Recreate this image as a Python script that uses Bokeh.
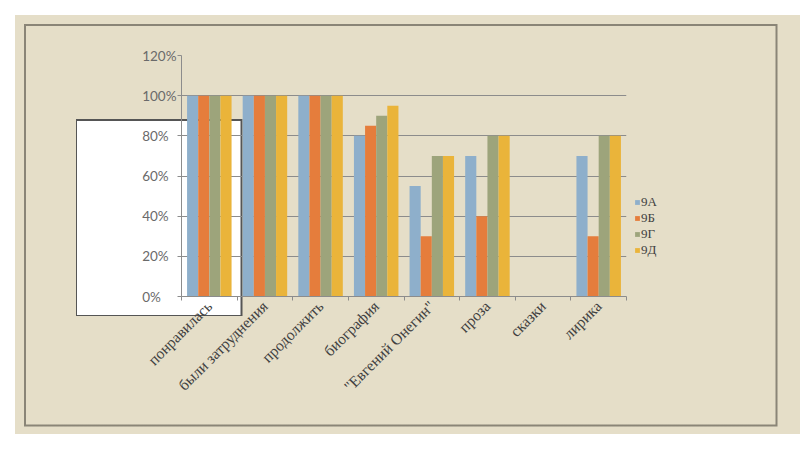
from bokeh.plotting import figure
from bokeh.models import (ColumnDataSource, FixedTicker, Legend, LegendItem)
from bokeh.transform import dodge
from bokeh.embed import file_html
from bokeh.resources import INLINE

categories = ["понравилась", "были затруднения", "продолжить", "биография",
              "\"Евгений Онегин\"", "проза", "сказки", "лирика"]
series = ["9А", "9Б", "9Г", "9Д"]
v_9A = [100, 100, 100, 80, 55, 70, 0, 70]
v_9B = [100, 100, 100, 85, 30, 40, 0, 30]
v_9G = [100, 100, 100, 90, 70, 80, 0, 80]
v_9D = [100, 100, 100, 95, 70, 80, 0, 80]
y_ticks = [0, 20, 40, 60, 80, 100, 120]

colors = ["#8EAFCB", "#E57D3C", "#9DA47B", "#EAB43A"]
offsets = [-0.3, -0.1, 0.1, 0.3]

centers = [i + 0.5 for i in range(len(categories))]
src = ColumnDataSource(dict(x=centers, a=v_9A, b=v_9B, g=v_9G, d=v_9D))

BG = "#E5DEC8"
FRAME = "#8A8577"
# page decoration painted behind a transparent canvas (positions relative to figure)
bg_layers = ", ".join([
    "linear-gradient(white, white) 62px 105.5px / 163.5px 194px no-repeat",
    "linear-gradient(#555555, #555555) 60.5px 104px / 166.5px 197px no-repeat",
    f"linear-gradient({BG}, {BG}) 10.5px 10.5px / 749.5px 398.5px no-repeat",
    f"linear-gradient({FRAME}, {FRAME}) 8.5px 8.5px / 753.5px 402.5px no-repeat",
])

p = figure(frame_width=445, frame_height=241, output_backend="svg", toolbar_location=None,
           x_range=(0, len(categories)), y_range=(0, 120),
           min_border_left=166, min_border_right=159, min_border_top=40,
           min_border_bottom=138, margin=(15, 0, 0, 15),
           styles={"background": bg_layers, "background-color": BG})
p.border_fill_alpha = 0
p.background_fill_alpha = 0
p.outline_line_color = None

fields = ["a", "b", "g", "d"]
renderers = []
for f, c, off in zip(fields, colors, offsets):
    r = p.vbar(x=dodge("x", off), top=f, width=0.2, bottom=0, source=src,
               fill_color=c, line_color=None)
    renderers.append(r)

# axes (labels are left-aligned in the original: pad short ones with figure spaces)
FS = "\u2007"
p.yaxis.ticker = FixedTicker(ticks=y_ticks)
p.yaxis.major_label_overrides = {t: f"{t}%" + FS * (3 - len(str(t))) for t in y_ticks}
p.yaxis.major_label_text_font = "Lato"
p.yaxis.major_label_text_font_size = "13.5px"
p.yaxis.major_label_text_color = "#6A6A6A"
p.yaxis.major_label_standoff = 1
p.yaxis.axis_line_color = "#8C8C8C"
p.yaxis.major_tick_line_color = "#8C8C8C"
p.yaxis.major_tick_out = 4
p.yaxis.major_tick_in = 0
p.yaxis.minor_tick_line_color = None

p.xaxis.ticker = FixedTicker(ticks=centers, minor_ticks=list(range(len(categories) + 1)))
p.xaxis.major_label_overrides = {c: lab for c, lab in zip(centers, categories)}
p.xaxis.major_label_orientation = 0.785
p.xaxis.major_label_text_font = "Liberation Serif"
p.xaxis.major_label_text_font_size = "15.5px"
p.xaxis.major_label_text_color = "#404040"
p.xaxis.major_tick_line_color = None
p.xaxis.major_tick_out = 0
p.xaxis.major_tick_in = 0
p.xaxis.minor_tick_line_color = "#8C8C8C"
p.xaxis.minor_tick_out = 4
p.xaxis.minor_tick_in = 0
p.xaxis.axis_line_color = "#8C8C8C"
p.xaxis.major_label_standoff = 3

p.xgrid.grid_line_color = None
p.ygrid.ticker = FixedTicker(ticks=y_ticks)
p.ygrid.grid_line_color = "#8C8C8C"
p.ygrid.grid_line_width = 1

legend = Legend(items=[LegendItem(label=s, renderers=[r]) for s, r in zip(series, renderers)],
                location=(8, 38))
legend.label_text_font = "Liberation Serif"
legend.label_text_font_size = "13px"
legend.label_text_color = "#404040"
legend.glyph_width = 6
legend.glyph_height = 6
legend.label_standoff = 1
legend.label_height = 16
legend.spacing = 0
legend.padding = 0
legend.margin = 0
legend.border_line_color = None
legend.background_fill_alpha = 0
p.add_layout(legend, "right")

open("out.html", "w").write(file_html(p, INLINE))
